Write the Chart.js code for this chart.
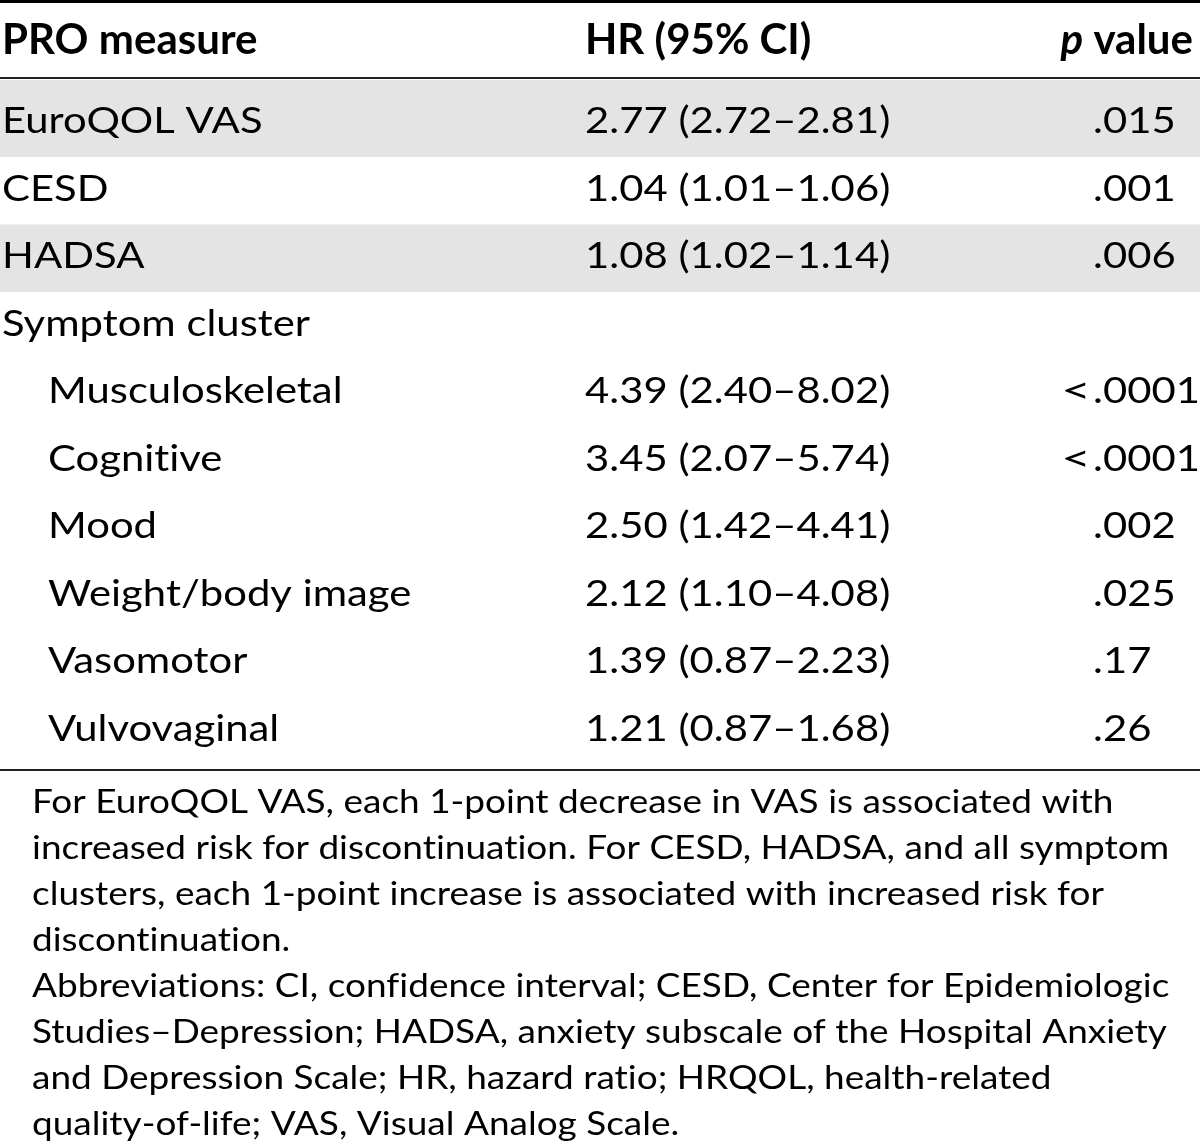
<!DOCTYPE html>
<html>
<head>
<meta charset="utf-8">
<title>PRO measures and discontinuation</title>
<script src="https://cdn.jsdelivr.net/npm/chart.js@4.4.1/dist/chart.umd.min.js"></script>
<style>
    html, body { margin: 0; padding: 0; background: #fff; }
    .table-container { position: relative; width: 1200px; height: 1146px; }
</style>
</head>
<body>
<div class="table-container">
    <canvas id="proTable"></canvas>
</div>
<script>
// Table data
const headers = ['PRO measure', 'HR (95% CI)', 'p value'];
const measures = ['EuroQOL VAS', 'CESD', 'HADSA', 'Symptom cluster', 'Musculoskeletal', 'Cognitive', 'Mood', 'Weight/body image', 'Vasomotor', 'Vulvovaginal'];
const indented = [false, false, false, false, true, true, true, true, true, true];
const hrValues = [2.77, 1.04, 1.08, null, 4.39, 3.45, 2.50, 2.12, 1.39, 1.21];
const ciLow = [2.72, 1.01, 1.02, null, 2.40, 2.07, 1.42, 1.10, 0.87, 0.87];
const ciHigh = [2.81, 1.06, 1.14, null, 8.02, 5.74, 4.41, 4.08, 2.23, 1.68];
const pValues = ['.015', '.001', '.006', '', '<.0001', '<.0001', '.002', '.025', '.17', '.26'];
const shadedRows = [0, 2];
const footnoteLines = [
    'For EuroQOL VAS, each 1-point decrease in VAS is associated with',
    'increased risk for discontinuation. For CESD, HADSA, and all symptom',
    'clusters, each 1-point increase is associated with increased risk for',
    'discontinuation.',
    'Abbreviations: CI, confidence interval; CESD, Center for Epidemiologic',
    'Studies\u2013Depression; HADSA, anxiety subscale of the Hospital Anxiety',
    'and Depression Scale; HR, hazard ratio; HRQOL, health-related',
    'quality-of-life; VAS, Visual Analog Scale.'
];

// Layout (pixels / row units)
const TABLE_W = 1200;
const FIRST_ROW_PAD = 0.14;   // extra space above first body row, in rows
const COL_MEASURE = 2;
const COL_INDENT = 48;
const COL_HR = 585;
const COL_P_DOT = 1093;
const COL_P_RIGHT = 1193;
const FONT = 'Lato, "Open Sans", sans-serif';
const BODY_STRETCH = 1.13;    // source font is wider than Lato
const NOTE_STRETCH = 1.155;
const SHADE = '#e4e4e4';

function formatHr(i) {
    if (hrValues[i] === null) return '';
    return hrValues[i].toFixed(2) + ' (' + ciLow[i].toFixed(2) + '\u2013' + ciHigh[i].toFixed(2) + ')';
}

// text drawn with a horizontal stretch around its anchor point
function drawText(ctx, text, x, y, align, stretch) {
    ctx.save();
    ctx.translate(x, y);
    ctx.scale(stretch, 1);
    ctx.textAlign = align;
    ctx.fillText(text, 0, 0);
    ctx.restore();
}

// Draws rules, header, cell texts and footnote on top of the shading bars
const tableTextPlugin = {
    id: 'tableText',
    afterDraw(chart) {
        const ctx = chart.ctx;
        const area = chart.chartArea;
        const x = chart.scales.x;
        const y = chart.scales.y;
        ctx.save();
        ctx.fillStyle = '#000';
        if ('letterSpacing' in ctx) ctx.letterSpacing = '0.01px'; // avoid Lato "ti" ligature

        // rules
        ctx.fillRect(0, 0, TABLE_W, 3);
        ctx.fillStyle = '#222';
        ctx.fillRect(0, area.top - 3, TABLE_W, 2);
        ctx.fillRect(0, area.bottom + 4.5, TABLE_W, 2);

        // header
        ctx.fillStyle = '#000';
        ctx.textBaseline = 'alphabetic';
        ctx.font = 'bold 42px ' + FONT;
        drawText(ctx, headers[0], x.getPixelForValue(COL_MEASURE), 54, 'left', 1);
        drawText(ctx, headers[1], x.getPixelForValue(COL_HR), 54, 'left', 1.0);
        const pWord = headers[2].slice(1);
        const wWord = ctx.measureText(pWord).width;
        drawText(ctx, pWord, x.getPixelForValue(COL_P_RIGHT) - wWord, 54, 'left', 1);
        ctx.font = 'italic bold 42px ' + FONT;
        drawText(ctx, headers[2][0], x.getPixelForValue(COL_P_RIGHT) - wWord, 54, 'right', 1);

        // body rows
        ctx.font = '37px ' + FONT;
        measures.forEach((m, i) => {
            const base = y.getPixelForValue(i + 0.5) + 10;
            drawText(ctx, m, x.getPixelForValue(indented[i] ? COL_INDENT : COL_MEASURE), base, 'left', BODY_STRETCH);
            drawText(ctx, formatHr(i), x.getPixelForValue(COL_HR), base, 'left', BODY_STRETCH);
            const p = pValues[i];
            const dot = p.indexOf('.');
            if (dot > 0) {
                drawText(ctx, p.slice(0, dot), x.getPixelForValue(COL_P_DOT) - 2, base, 'right', 1.4);
            }
            drawText(ctx, p.slice(Math.max(dot, 0)), x.getPixelForValue(COL_P_DOT), base, 'left', BODY_STRETCH);
        });

        // footnote
        ctx.font = '32px ' + FONT;
        footnoteLines.forEach((line, k) => {
            drawText(ctx, line, 32, area.bottom + 48.5 + k * 46, 'left', NOTE_STRETCH);
        });
        ctx.restore();
    }
};

// Shaded rows as floating bars across the full table width
const shadeData = shadedRows.map(i => ({
    x: TABLE_W / 2,
    y: [i === 0 ? -FIRST_ROW_PAD : i, i + 1]
}));

new Chart(document.getElementById('proTable'), {
    type: 'bar',
    data: {
        datasets: [{
            label: 'shaded rows',
            data: shadeData,
            backgroundColor: SHADE,
            borderWidth: 0,
            barThickness: TABLE_W,
            inflateAmount: 0
        }]
    },
    options: {
        responsive: true,
        maintainAspectRatio: false,
        animation: false,
        layout: { padding: { top: 80, bottom: 381.5, left: 0, right: 0 } },
        plugins: {
            legend: { display: false },
            tooltip: { enabled: false }
        },
        scales: {
            x: { type: 'linear', offset: false, min: 0, max: TABLE_W, display: false },
            y: { type: 'linear', reverse: true, min: -FIRST_ROW_PAD, max: measures.length, display: false }
        }
    },
    plugins: [tableTextPlugin]
});
</script>
</body>
</html>
